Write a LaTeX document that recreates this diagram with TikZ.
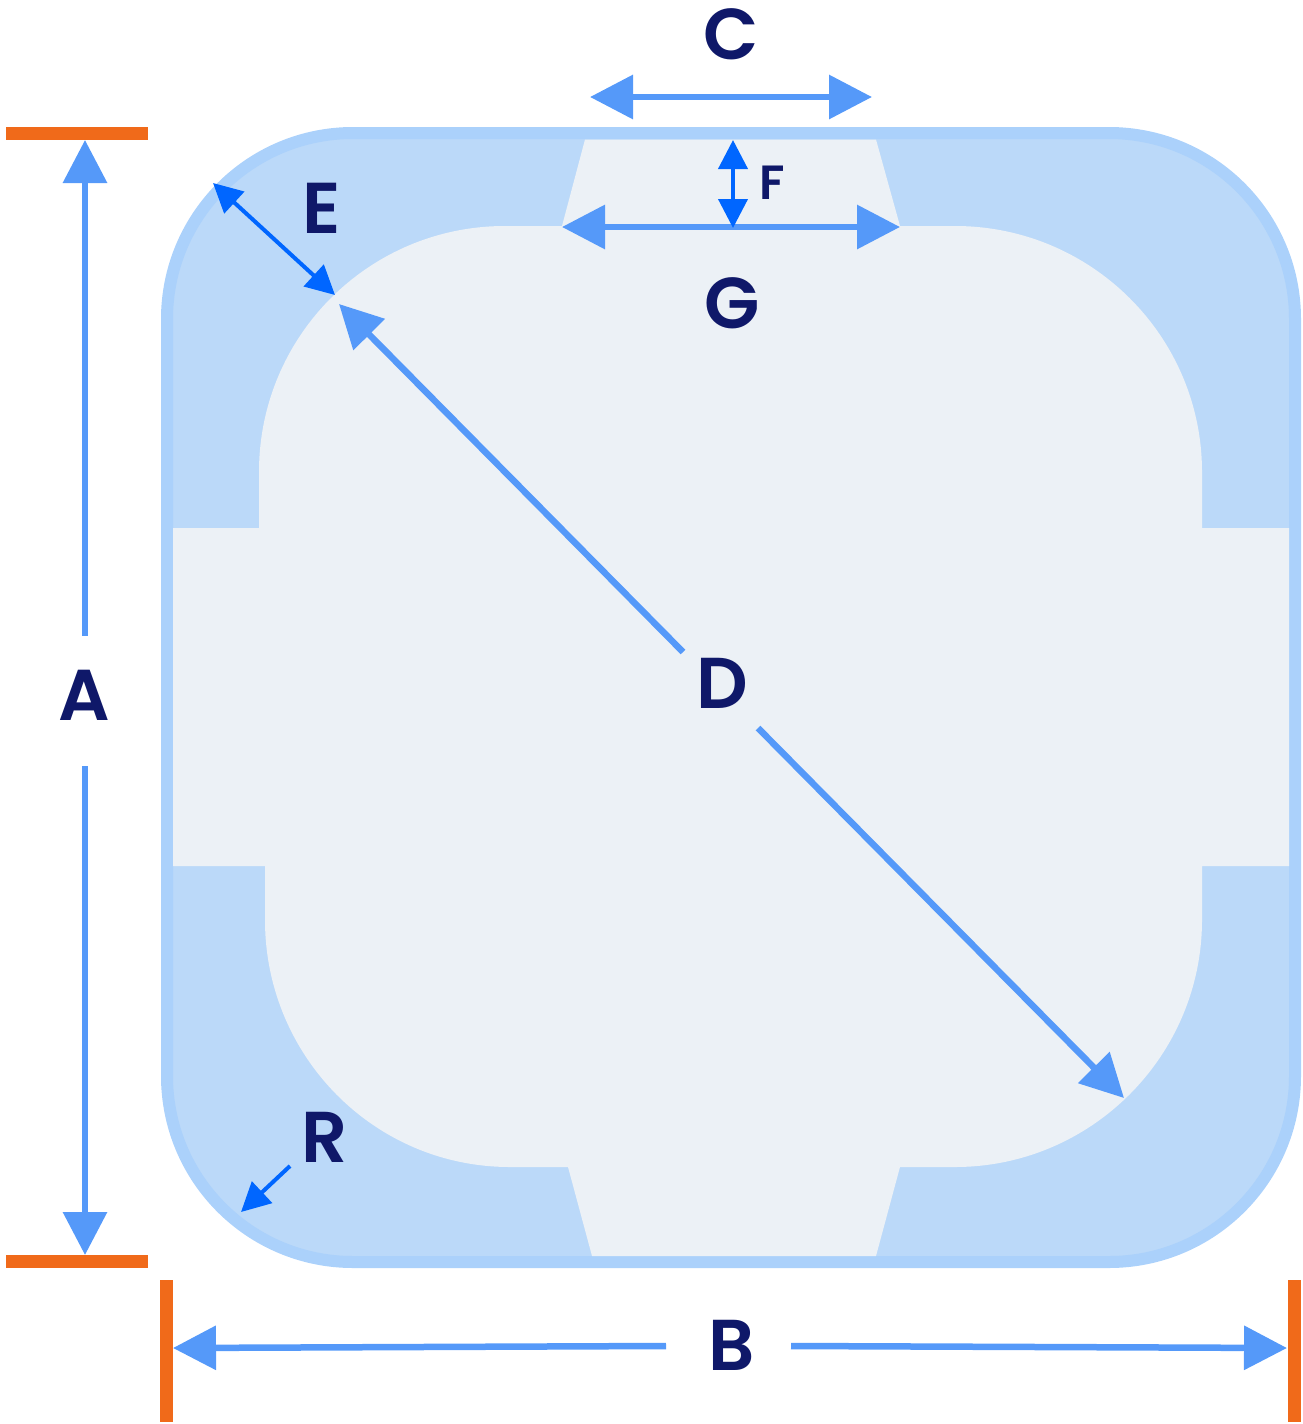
\documentclass[tikz,border=0pt]{standalone}
\usepackage{fontspec}
\setmainfont{Poppins}[BoldFont={Poppins SemiBold}]
\usetikzlibrary{arrows.meta}
\definecolor{frameblue}{HTML}{ABD1FB}
\definecolor{bodyblue}{HTML}{BBD9F9}
\definecolor{innerpale}{HTML}{ECF1F6}
\definecolor{arrowblue}{HTML}{5599F9}
\definecolor{arrowvivid}{HTML}{0066FF}
\definecolor{tickorange}{HTML}{F06A1A}
\definecolor{labelnavy}{HTML}{0F1869}
\tikzset{
  bigarrow/.style={draw=arrowblue,line width=6.5pt,{Triangle[length=43pt,width=43pt]}-{Triangle[length=43pt,width=43pt]}},
  halfstart/.style={draw=arrowblue,line width=6.5pt,{Triangle[length=43pt,width=43pt]}-},
  halfend/.style={draw=arrowblue,line width=6.5pt,-{Triangle[length=43pt,width=43pt]}},
  thinarrow/.style={draw=arrowvivid,line width=4pt,{Triangle[length=29pt,width=29pt]}-{Triangle[length=29pt,width=29pt]}},
  thinend/.style={draw=arrowvivid,line width=4pt,-{Triangle[length=29pt,width=29pt]}},
  tick/.style={draw=tickorange,line width=13pt},
  biglabel/.style={text=labelnavy,font=\fontsize{72pt}{72pt}\selectfont\bfseries,anchor=base,inner sep=0pt},
  smalllabel/.style={text=labelnavy,font=\fontsize{48pt}{48pt}\selectfont\bfseries,anchor=base,inner sep=0pt}
}
\begin{document}
\begin{tikzpicture}[x=1pt,y=-1pt]
\useasboundingbox (0,0) rectangle (1303,1424);
% body
\draw[draw=frameblue,fill=bodyblue,line width=12pt,rounded corners=186pt] (167,133) rectangle (1295,1262);
% inner plate
\fill[innerpale] (585,139.5) -- (876,139.5) -- (900,226) -- (955,226)
  .. controls (1091,226) and (1202,336) .. (1202,472)
  -- (1202,528) -- (1289,528) -- (1289,866) -- (1202,866) -- (1202,920)
  .. controls (1202,1056) and (1091,1167) .. (955,1167)
  -- (900,1167) -- (876,1256) -- (592,1256) -- (568,1167) -- (510,1167)
  .. controls (374,1167) and (265,1056) .. (265,920)
  -- (265,866) -- (173,866) -- (173,528) -- (259,528) -- (259,472)
  .. controls (259,336) and (369,226) .. (505,226)
  -- (562,226) -- cycle;
% coordinates
\coordinate (tAl) at (6,133);   \coordinate (tAr) at (148,133);
\coordinate (bAl) at (6,1261);  \coordinate (bAr) at (148,1261);
\coordinate (lBt) at (166,1280); \coordinate (lBb) at (166,1422);
\coordinate (rBt) at (1294,1280); \coordinate (rBb) at (1294,1422);
\coordinate (Atop) at (85,140);  \coordinate (Aup) at (85,636);
\coordinate (Adown) at (85,766); \coordinate (Abot) at (85,1255);
\coordinate (Bleft) at (173,1348); \coordinate (Bl) at (666,1346);
\coordinate (Br) at (791,1346); \coordinate (Bright) at (1287,1348);
\coordinate (Cl) at (590,97); \coordinate (Cr) at (872,97);
\coordinate (Gl) at (562,227); \coordinate (Gr) at (900,227);
\coordinate (Ft) at (733,140); \coordinate (Fb) at (733,228);
\coordinate (Eo) at (213,183); \coordinate (Ei) at (335,295);
\coordinate (Dtl) at (339,304); \coordinate (Du) at (683,652);
\coordinate (Dd) at (758,728); \coordinate (Dbr) at (1124,1098);
\coordinate (Rs) at (290,1166); \coordinate (Re) at (241,1212);
% ticks
\draw[tick] (tAl) -- (tAr);
\draw[tick] (bAl) -- (bAr);
\draw[tick] (lBt) -- (lBb);
\draw[tick] (rBt) -- (rBb);
% arrows
\draw[halfstart] (Atop) -- (Aup);
\draw[halfend] (Adown) -- (Abot);
\draw[halfstart] (Bleft) -- (Bl);
\draw[halfend] (Br) -- (Bright);
\draw[bigarrow] (Cl) -- (Cr);
\draw[bigarrow] (Gl) -- (Gr);
\draw[halfstart] (Dtl) -- (Du);
\draw[halfend] (Dd) -- (Dbr);
\draw[thinarrow] (Ft) -- (Fb);
\draw[thinarrow] (Eo) -- (Ei);
\draw[thinend] (Rs) -- (Re);
% labels
\node[biglabel] (labA) at (84,720) {A};
\node[biglabel] (labB) at (732,1370) {B};
\node[biglabel] (labC) at (731,59.5) {C};
\node[biglabel] (labD) at (722,708) {D};
\node[biglabel] (labE) at (322,233) {E};
\node[smalllabel] (labF) at (772,199) {F};
\node[biglabel] (labG) at (732,328) {G};
\node[biglabel] (labR) at (325,1162) {R};
\end{tikzpicture}
\end{document}
